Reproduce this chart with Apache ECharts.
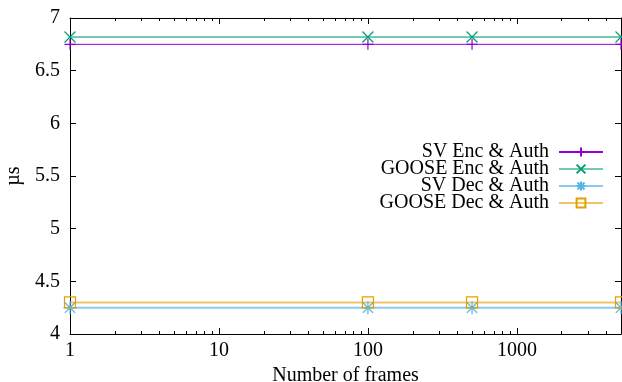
<!DOCTYPE html>
<html>
<head>
<meta charset="utf-8">
<script src="https://cdn.jsdelivr.net/npm/echarts@6/dist/echarts.min.js"></script>
<style>
  html, body { margin: 0; padding: 0; background: #fff; }
  #chart { width: 622px; height: 382px; }
</style>
</head>
<body>
<div id="chart"></div>
<script>
// number of frames (x) and timings in µs
var frames = [1, 100, 500, 5000];
var svEnc = [6.75, 6.75, 6.75, 6.75];
var gooseEnc = [6.82, 6.82, 6.82, 6.82];
var svDec = [4.25, 4.25, 4.25, 4.25];
var gooseDec = [4.30, 4.30, 4.30, 4.30];
var seriesNames = ['SV Enc & Auth', 'GOOSE Enc & Auth', 'SV Dec & Auth', 'GOOSE Dec & Auth'];

var FONT = 'Liberation Serif';
var FS = 20;
var chart = echarts.init(document.getElementById('chart'));

function pairs(ys) {
    return frames.map(function (x, i) { return [x, ys[i]]; });
}

// gnuplot style point types
var plus = 'path://M0,5L10,5M5,0L5,10';
var cross = 'path://M0,0L10,10M10,0L0,10';
var star = 'path://M0,5L10,5M5,0L5,10M1,1L9,9M9,1L1,9';
var square = 'path://M0,0L10,0L10,10L0,10Z';

function mkSeries(name, ys, color, symbol, size, width, opacity) {
    return {
        name: name,
        type: 'line',
        data: pairs(ys),
        symbol: symbol,
        symbolSize: size,
        showAllSymbol: true,
        itemStyle: { color: 'none', borderColor: color, borderWidth: 1.2 },
        lineStyle: { color: color, width: width, opacity: opacity },
        emphasis: { disabled: true },
        animation: false
    };
}

var xBase = {
    type: 'log',
    logBase: 10,
    min: 1,
    max: 5000,
    axisLine: { show: true, onZero: false, lineStyle: { color: '#000', width: 1 } },
    axisTick: { show: true, inside: true, length: 6, lineStyle: { color: '#000' } },
    minorTick: { show: true, splitNumber: 9, length: 3, lineStyle: { color: '#000' } },
    splitLine: { show: false },
    minorSplitLine: { show: false }
};

var yBase = {
    type: 'value',
    min: 4,
    max: 7,
    interval: 0.5,
    axisLine: { show: true, onZero: false, lineStyle: { color: '#000', width: 1 } },
    axisTick: { show: true, inside: true, length: 6, lineStyle: { color: '#000' } },
    splitLine: { show: false }
};

var option = {
    backgroundColor: '#fff',
    animation: false,
    textStyle: { fontFamily: FONT },
    grid: { left: 70, right: 1, top: 18, bottom: 48, outerBoundsMode: 'none', containLabel: false },
    legend: {
        data: seriesNames,
        orient: 'vertical',
        right: 18,
        top: 142,
        padding: 0,
        align: 'right',
        itemWidth: 44,
        itemHeight: 11,
        itemGap: -3,
        selectedMode: false,
        textStyle: { fontFamily: FONT, fontSize: FS, color: '#000', padding: [0, 5, 0, 0] }
    },
    xAxis: [
        echarts.util.merge({
            position: 'bottom',
            name: 'Number of frames',
            nameLocation: 'middle',
            nameGap: 28,
            nameTextStyle: { fontFamily: FONT, fontSize: FS, color: '#000' },
            axisLabel: {
                fontFamily: FONT, fontSize: FS, color: '#000', margin: 7, showMaxLabel: false,
                formatter: function (v) { return String(v); }
            }
        }, xBase, true),
        echarts.util.merge({
            position: 'top',
            axisLabel: { show: false }
        }, xBase, true)
    ],
    yAxis: [
        echarts.util.merge({
            position: 'left',
            name: 'µs',
            nameLocation: 'middle',
            nameRotate: 90,
            nameGap: 39,
            nameTextStyle: { fontFamily: FONT, fontSize: FS, color: '#000' },
            axisLabel: { fontFamily: FONT, fontSize: FS, color: '#000', margin: 10 }
        }, yBase, true),
        echarts.util.merge({
            position: 'right',
            axisLabel: { show: false }
        }, yBase, true)
    ],
    series: [
        mkSeries(seriesNames[0], svEnc, '#9400d3', plus, 11, 1, 1),
        mkSeries(seriesNames[1], gooseEnc, '#009e73', cross, 11, 2, 0.55),
        mkSeries(seriesNames[2], svDec, '#56b4e9', star, 13, 2, 0.7),
        mkSeries(seriesNames[3], gooseDec, '#e69f00', square, 11, 2, 0.6)
    ]
};

chart.setOption(option);
</script>
</body>
</html>
